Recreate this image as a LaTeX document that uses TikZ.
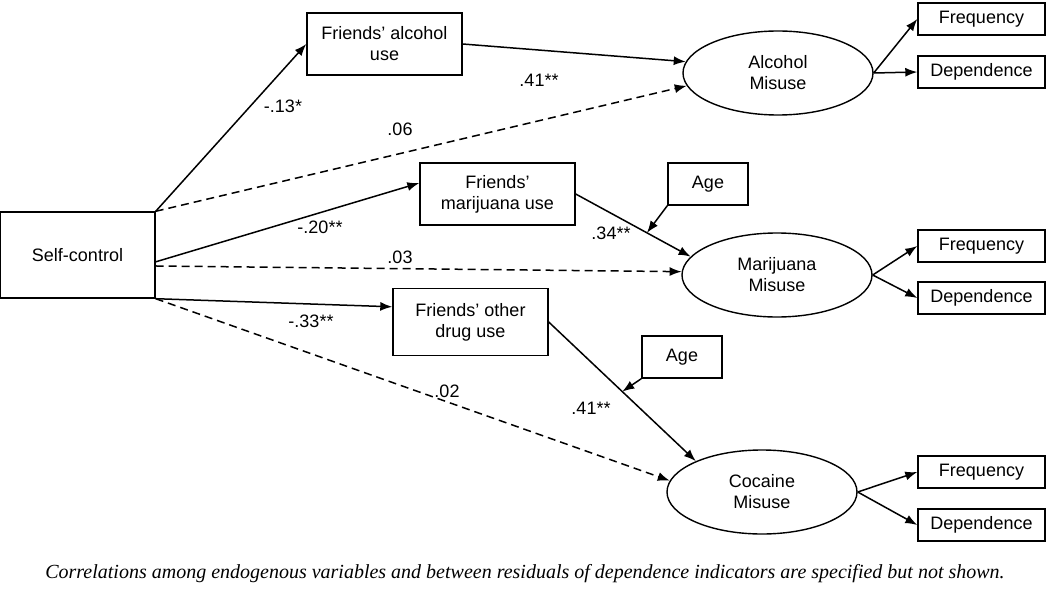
\documentclass[tikz,border=0pt]{standalone}
\usepackage{fontspec}
\setmainfont{Liberation Sans}
\newfontfamily\captionfont{Liberation Serif}
\usetikzlibrary{
  positioning,
  calc,
  arrows.meta,
  shapes.geometric,
}
\tikzset{
  meta box/.style={
    draw,
    black,
    line width=1.4pt,
    text centered
  },
  var box/.style={
    meta box,
    rectangle,
    inner sep=2pt,
    minimum height=62pt,
    minimum width=155pt,
    align=center
  },
  ind box/.style={
    meta box,
    rectangle,
    minimum height=32pt,
    minimum width=127pt
  },
  age box/.style={
    meta box,
    rectangle,
    minimum height=42pt,
    minimum width=80pt
  },
  latent/.style={
    meta box,
    ellipse,
    minimum width=190pt,
    minimum height=84pt,
    align=center
  },
  path/.style={
    line width=1.5pt,
    -{Latex[length=12pt,width=9pt]}
  },
  ns path/.style={
    path,
    dash pattern=on 8pt off 5pt
  },
  coef/.style={
    inner sep=1pt
  }
}

\begin{document}
\begin{tikzpicture}[x=1pt, y=-1pt, font=\fontsize{18}{21}\selectfont]
  \useasboundingbox (0,0) rectangle (1050,607);

  % exogenous and mediators
  \node[var box, minimum height=86pt] (selfctl) at (77.5,255) {Self-control};
  \node[var box] (falc) at (384.5,44)  {Friends’ alcohol\\use};
  \node[var box] (fmar) at (497.5,194) {Friends’\\marijuana use};
  \node[var box, minimum height=67pt] (foth) at (470.5,322) {Friends’ other\\drug use};

  % outcomes
  \node[latent] (alc) at (778,73)  {Alcohol\\Misuse};
  \node[latent] (mar) at (777,275) {Marijuana\\Misuse};
  \node[latent] (coc) at (762,492) {Cocaine\\Misuse};

  \node[age box] (agemar) at (708,184) {Age};
  \node[age box] (agecoc) at (682,357) {Age};

  % indicators
  \node[ind box] (alcfreq) at (981.5,19)  {Frequency};
  \node[ind box] (alcdep)  at (981.5,72)  {Dependence};
  \node[ind box] (marfreq) at (981.5,246) {Frequency};
  \node[ind box] (mardep)  at (981.5,298) {Dependence};
  \node[ind box] (cocfreq) at (981.5,472) {Frequency};
  \node[ind box] (cocdep)  at (981.5,525) {Dependence};

  % paths
  \draw[path] (selfctl.north east) -- (falc.west);
  \draw[ns path] (selfctl.north east) -- (alc.188);
  \draw[path] (selfctl.-5) -- (fmar.172);
  \draw[ns path] (selfctl.-8) -- (mar.178);
  \draw[path] (selfctl.south east) -- (foth.169);
  \draw[ns path] (selfctl.south east) -- (coc.173);

  \draw[path] (falc.east) -- (alc.173);
  \draw[path] (fmar.east) -- coordinate[pos=0.62] (agemarhit) (mar.168);
  \draw[path] (foth.east) -- coordinate[pos=0.5] (agecochit) (coc.155);
  \draw[path] (agemar.south west) -- (agemarhit);
  \draw[path] (agecoc.south west) -- (agecochit);

  \foreach \lat/\ind in {alc/alc, mar/mar, coc/coc}{
    \draw[path] (\lat.east) -- (\ind freq.west);
    \draw[path] (\lat.east) -- (\ind dep.west);
  }

  % coefficients
  \node[coef] (c1) at (283,106) {-.13*};
  \node[coef] (c2) at (539,80)  {.41**};
  \node[coef] (c3) at (400,129) {.06};
  \node[coef] (c4) at (320,227) {-.20**};
  \node[coef] (c5) at (400,257) {.03};
  \node[coef] (c6) at (311,321) {-.33**};
  \node[coef] (c7) at (447,391) {.02};
  \node[coef] (c8) at (611,233) {.34**};
  \node[coef] (c9) at (591,408) {.41**};

  \node (note) at (525,574) {\captionfont\itshape\fontsize{20}{23}\selectfont Correlations among endogenous variables and between residuals of dependence indicators are specified but not shown.};
\end{tikzpicture}
\end{document}
